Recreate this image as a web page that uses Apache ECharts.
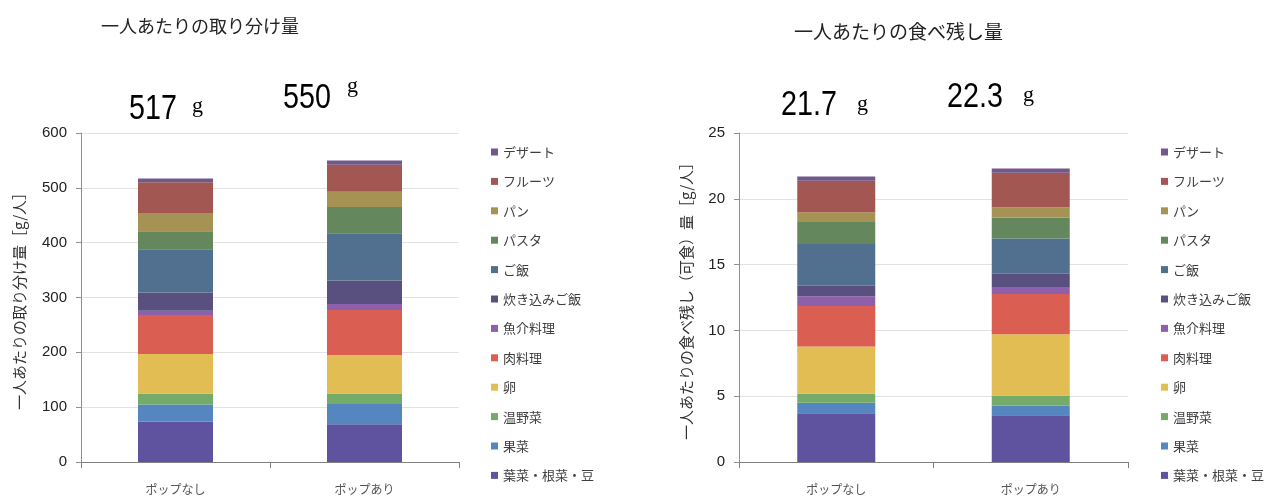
<!DOCTYPE html>
<html>
<head>
<meta charset="utf-8">
<script src="https://cdn.jsdelivr.net/npm/echarts@6/dist/echarts.min.js"></script>
<style>
  html, body { margin: 0; padding: 0; background: #fff; }
  #chart { width: 1271px; height: 498px; }
</style>
</head>
<body>
<div id="chart"></div>
<script>
// Categories (with / without POP display)
const categories = ['ポップなし', 'ポップあり'];

// Food groups, bottom of stack first
const foodNames = ['葉菜・根菜・豆', '果菜', '温野菜', '卵', '肉料理', '魚介料理',
  '炊き込みご飯', 'ご飯', 'パスタ', 'パン', 'フルーツ', 'デザート'];

// Amount served per person [g], per food group
const servedNoPop   = [74, 31, 19.5, 72.5, 71, 8, 33, 79, 33, 33, 56, 7];
const servedWithPop = [69, 37, 19, 70, 82, 11, 43, 86, 48, 28, 49, 8];

// Plate waste per person (edible part) [g], per food group
const wasteNoPop   = [3.71, 0.79, 0.68, 3.59, 3.08, 0.75, 0.79, 3.18, 1.67, 0.74, 2.40, 0.32];
const wasteWithPop = [3.56, 0.73, 0.76, 4.65, 3.06, 0.53, 1.01, 2.68, 1.59, 0.79, 2.62, 0.32];

// Axis tick settings
const servedTicks = { min: 0, max: 600, interval: 100 };
const wasteTicks  = { min: 0, max: 25, interval: 5 };

const colors = ['#5A4C9C', '#4F82BD', '#6FA864', '#E1BB4E', '#D9594C', '#8A5BA8',
  '#544A7C', '#4B6B8B', '#608359', '#A38F4D', '#A0524D', '#6E5486'];

const sum = arr => arr.reduce((a, b) => a + b, 0);
const servedTotals = [sum(servedNoPop), sum(servedWithPop)].map(v => Math.round(v));
const wasteTotals  = [sum(wasteNoPop), sum(wasteWithPop)].map(v => (Math.round(v * 10) / 10).toFixed(1));

const JP = '"Noto Sans CJK JP", "Noto Sans", sans-serif';
const NUM = '"Liberation Sans", Arial, sans-serif';

function makeSeries(gridIdx, a, b, barWidth) {
  return foodNames.map((name, i) => ({
    name: name,
    type: 'bar',
    stack: 'g' + gridIdx,
    xAxisIndex: gridIdx,
    yAxisIndex: gridIdx,
    barWidth: barWidth,
    itemStyle: { color: colors[i], opacity: 0.97 },
    emphasis: { disabled: true },
    data: [a[i], b[i]]
  }));
}

const legendOrder = foodNames.slice().reverse();

function legendAt(left) {
  return {
    orient: 'vertical',
    left: left,
    top: 140,
    itemWidth: 7,
    itemHeight: 7,
    itemGap: 15.4,
    icon: 'rect',
    selectedMode: false,
    data: legendOrder,
    textStyle: { fontFamily: JP, fontSize: 13, color: '#404040', lineHeight: 14 }
  };
}

function xAxisFor(gridIdx) {
  return {
    type: 'category',
    gridIndex: gridIdx,
    data: categories,
    axisLine: { lineStyle: { color: '#808080', width: 1 } },
    axisTick: { show: true, length: 6, lineStyle: { color: '#808080' } },
    axisLabel: { fontFamily: JP, fontSize: 12, color: '#555', margin: 21 }
  };
}

function yAxisFor(gridIdx, ticks, name, gap) {
  return {
    type: 'value',
    gridIndex: gridIdx,
    min: ticks.min, max: ticks.max, interval: ticks.interval,
    name: name,
    nameLocation: 'middle',
    nameGap: gap,
    nameRotate: 90,
    nameTextStyle: { fontFamily: JP, fontSize: 15, color: '#333' },
    axisLine: { show: true, lineStyle: { color: '#909090', width: 1 } },
    axisTick: { show: true, length: 5, lineStyle: { color: '#909090' } },
    axisLabel: { fontFamily: NUM, fontSize: 15, color: '#222', margin: 14 },
    splitLine: { lineStyle: { color: '#e2e2e2', width: 1.2 } }
  };
}

function totalText(x, y, text) {
  return {
    type: 'text', x: x, y: y, silent: true,
    scaleX: 0.82,
    style: { text: text, font: '35px ' + NUM, fill: '#000', verticalAlign: 'middle', align: 'left' }
  };
}
function unitText(x, y) {
  return {
    type: 'text', x: x, y: y, silent: true,
    style: { text: 'g', font: '22px "Liberation Serif", "DejaVu Serif", serif', fill: '#000', verticalAlign: 'middle', align: 'left' }
  };
}

const chart = echarts.init(document.getElementById('chart'), null, { renderer: 'canvas' });
chart.setOption({
  animation: false,
  backgroundColor: '#fff',
  title: [
    { text: '一人あたりの取り分け量', left: 96, top: 12,
      textStyle: { fontFamily: JP, fontSize: 18, fontWeight: 'normal', color: '#222' } },
    { text: '一人あたりの食べ残し量', left: 789, top: 17,
      textStyle: { fontFamily: JP, fontSize: 19, fontWeight: 'normal', color: '#222' } }
  ],
  legend: [legendAt(486), legendAt(1156)],
  grid: [
    { left: 81, right: 1271 - 459, top: 133, bottom: 36 },
    { left: 739, right: 1271 - 1128, top: 133, bottom: 36 }
  ],
  xAxis: [xAxisFor(0), xAxisFor(1)],
  yAxis: [
    yAxisFor(0, servedTicks, '一人あたりの取り分け量［g/人］', 54),
    yAxisFor(1, wasteTicks, '一人あたりの食べ残し（可食）量［g/人］', 45)
  ],
  series: makeSeries(0, servedNoPop, servedWithPop, 75)
    .concat(makeSeries(1, wasteNoPop, wasteWithPop, 78)),
  graphic: [
    totalText(129, 109, String(servedTotals[0])),
    unitText(192, 106),
    totalText(283, 98, String(servedTotals[1])),
    unitText(347, 86),
    totalText(781, 105, String(wasteTotals[0])),
    unitText(857, 104),
    totalText(947, 97, String(wasteTotals[1])),
    unitText(1023, 95)
  ]
});
</script>
</body>
</html>
